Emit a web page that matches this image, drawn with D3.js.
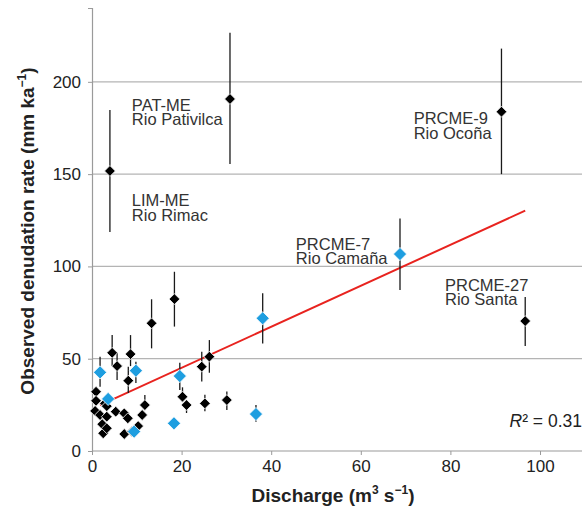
<!DOCTYPE html>
<html>
<head>
<meta charset="utf-8">
<script src="https://cdn.jsdelivr.net/npm/d3@7"></script>
<style>
  body { margin: 0; background: #fff; }
  svg text { font-family: "Liberation Sans", Arial, sans-serif; }
</style>
</head>
<body>
<svg id="chart" width="582" height="508"></svg>
<script>
// black samples: [discharge, rate, errLow, errHigh] (null = no visible bar)
let blackX = [4.0, 30.8, 91.4, 96.7, 13.3, 18.4, 4.5, 8.6, 5.6, 8.1, 26.2, 24.5, 20.2, 21.1, 25.2, 30.1, 11.8,
  0.9, 0.9, 0.7, 1.8, 2.9, 3.3, 2.3, 2.5, 3.3, 3.3, 5.3, 7.2, 8.0, 7.2, 8.9, 10.3, 11.2];
let blackY = [151.7, 190.7, 183.8, 70.4, 69.2, 82.3, 53.2, 52.5, 46.0, 38.1, 51.1, 45.7, 29.4, 24.9, 25.8, 27.6, 24.9,
  32.1, 27.2, 21.7, 19.5, 25.8, 24.3, 14.5, 9.6, 18.6, 12.3, 21.3, 20.4, 17.7, 9.2, 10.5, 13.5, 19.5];
let blackLo = [118.6, 155.5, 150, 56.9, 55.6, 67.4, 46, 46, 38.5, 31.4, 42.4, 37.6, 26.7, 20.6, 21.5, 22.2, 22.2,
  null, null, null, null, null, null, null, null, null, null, null, null, null, null, null, null, null];
let blackHi = [184.7, 226.6, 218, 83.4, 82.2, 97.1, 62.8, 62.8, 53.1, 45.7, 60.1, 53.8, 34.5, 27.6, 30.5, 32.3, 30.3,
  null, null, null, null, null, null, null, null, null, null, null, null, null, null, null, null, null];

// blue samples
let blueX = [68.75, 1.8, 3.6, 9.8, 19.6, 18.3, 9.4, 36.6, 38.1];
let blueY = [106.7, 42.6, 28.2, 43.5, 40.6, 15.0, 10.5, 20.0, 71.9];
let blueLo = [87.2, 34.8, null, 36.8, 33.1, null, null, 15.9, 58.3];
let blueHi = [126, 51.1, null, 48.4, 47.8, null, null, 24.9, 85.5];

// regression line
let fitX = [1.8, 96.7];
let fitSlope = 1.11;
let fitIntercept = 22.9;

let xTicks = [0, 20, 40, 60, 80, 100];
let yTicks = [0, 50, 100, 150, 200];

// site labels
let siteX = [8.9, 8.9, 71.8, 45.5, 78.8];
let siteY = [184.3, 132.6, 177.0, 108.9, 86.7];
let siteName = ['PAT-ME', 'LIM-ME', 'PRCME-9', 'PRCME-7', 'PRCME-27'];
let siteRiver = ['Rio Pativilca', 'Rio Rimac', 'Rio Ocoña', 'Rio Camaña', 'Rio Santa'];

let svg = d3.select('#chart');
let x = d3.scaleLinear().domain([0, 100]).range([92, 540]);
let y = d3.scaleLinear().domain([0, 240]).range([451, 8]);
let right = 582;

// gridlines
svg.append('g')
  .selectAll('line')
  .data(yTicks.filter(d => d > 0))
  .enter()
  .append('line')
  .attr('x1', x(0)).attr('x2', right)
  .attr('y1', d => y(d)).attr('y2', d => y(d))
  .attr('stroke', '#b4b4b4').attr('stroke-width', 1.2);

// axes
let xAxis = svg.append('g')
  .attr('transform', 'translate(0,' + y(0) + ')')
  .call(d3.axisBottom(x).tickValues(xTicks).tickSize(4).tickPadding(5));
xAxis.select('.domain').attr('d', 'M' + x(0) + ',0H' + right);

let yAxis = svg.append('g')
  .attr('transform', 'translate(' + x(0) + ',0)')
  .call(d3.axisLeft(y).tickValues(yTicks).tickSize(4).tickPadding(5));

svg.selectAll('.domain').attr('stroke', '#9a9a9a').attr('stroke-width', 1.2);
svg.selectAll('.tick line').attr('stroke', '#9a9a9a');
svg.selectAll('.tick text')
  .attr('fill', '#222')
  .style('font-size', '17px')
  .style('font-family', '"Liberation Sans", Arial, sans-serif');
yAxis.selectAll('.tick text').attr('dx', '-2');

// regression
svg.append('path')
  .datum(fitX)
  .attr('fill', 'none')
  .attr('stroke', '#e8231f')
  .attr('stroke-width', 2)
  .attr('d', d3.line()
    .x(d => x(d))
    .y(d => y(fitIntercept + fitSlope * d)));

function drawSeries(xs, ys, lo, hi, fill, size) {
  let g = svg.append('g');
  let pts = xs.map((v, i) => ({ x: v, y: ys[i], lo: lo[i], hi: hi[i] }));
  g.selectAll('line')
    .data(pts.filter(d => d.lo != null))
    .enter()
    .append('line')
    .attr('x1', d => x(d.x)).attr('x2', d => x(d.x))
    .attr('y1', d => y(d.lo)).attr('y2', d => y(d.hi))
    .attr('stroke', '#1a1a1a').attr('stroke-width', 1.3);
  g.selectAll('path')
    .data(pts)
    .enter()
    .append('path')
    .attr('d', 'M0,' + -size + 'L' + size + ',0L0,' + size + 'L' + -size + ',0Z')
    .attr('transform', d => 'translate(' + x(d.x) + ',' + y(d.y) + ')')
    .attr('fill', fill)
    .attr('stroke', '#fff')
    .attr('stroke-width', 0.8);
}

drawSeries(blackX, blackY, blackLo, blackHi, '#000', 5.4);
drawSeries(blueX, blueY, blueLo, blueHi, '#1e9ee0', 6.6);

// site annotations
let labels = svg.append('g');
siteName.forEach(function (n, i) {
  let t = labels.append('text')
    .attr('x', x(siteX[i]))
    .attr('y', y(siteY[i]))
    .attr('fill', '#333')
    .style('font-size', '16.5px');
  t.append('tspan').text(n);
  t.append('tspan').attr('x', x(siteX[i])).attr('dy', 14.5).text(siteRiver[i]);
});

// R²
let r2 = svg.append('text')
  .attr('x', 582)
  .attr('y', 427)
  .attr('text-anchor', 'end')
  .attr('fill', '#222')
  .style('font-size', '17.5px');
r2.append('tspan').style('font-style', 'italic').text('R');
r2.append('tspan').text('² = 0.31');

// axis titles
let xt = svg.append('text')
  .attr('x', 333)
  .attr('y', 502)
  .attr('text-anchor', 'middle')
  .attr('fill', '#222')
  .style('font-size', '19px')
  .style('font-weight', 'bold');
xt.append('tspan').text('Discharge (m');
xt.append('tspan').attr('dy', -8).style('font-size', '12px').text('3');
xt.append('tspan').attr('dy', 8).text(' s');
xt.append('tspan').attr('dy', -8).style('font-size', '12px').text('−1');
xt.append('tspan').attr('dy', 8).text(')');

let yt = svg.append('text')
  .attr('transform', 'translate(34,231) rotate(-90)')
  .attr('text-anchor', 'middle')
  .attr('fill', '#222')
  .style('font-size', '19px')
  .style('font-weight', 'bold');
yt.append('tspan').text('Observed denudation rate (mm ka');
yt.append('tspan').attr('dy', -8).style('font-size', '12px').text('−1');
yt.append('tspan').attr('dy', 8).text(')');
</script>
</body>
</html>
